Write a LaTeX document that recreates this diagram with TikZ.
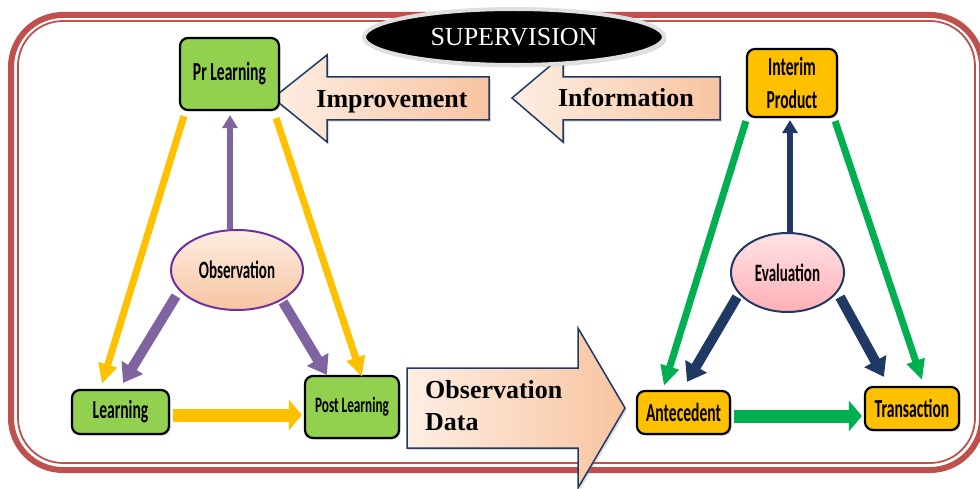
\documentclass[tikz,border=0pt]{standalone}
\usepackage{graphicx}
\usepackage{fontspec}
\setmainfont{Liberation Serif}
\newfontfamily\boxfont{Carlito}
\usetikzlibrary{arrows.meta, shapes.geometric, shadows}

\definecolor{framered}{HTML}{C0504D}
\definecolor{boxgreen}{HTML}{92D050}
\definecolor{boxorange}{HTML}{FFC000}
\definecolor{arryellow}{HTML}{FFC000}
\definecolor{arrgreen}{HTML}{00B050}
\definecolor{arrpurple}{HTML}{8064A2}
\definecolor{arrnavy}{HTML}{1F3864}
\definecolor{obsline}{HTML}{7030A0}
\definecolor{peachdark}{HTML}{F8C4A0}
\definecolor{peachlight}{HTML}{FDEEE3}
\definecolor{pinkdark}{HTML}{FFB0B6}
\definecolor{pinklight}{HTML}{FFE2E5}
\definecolor{blockline}{HTML}{1F3864}

\newcommand{\squeeze}[1]{\scalebox{0.6}[1]{#1}}

\begin{document}
\begin{tikzpicture}[x=1pt, y=-1pt,
    box/.style={rectangle, rounded corners=8pt, draw=black, line width=2.2pt, inner sep=0pt,
        align=center, font=\boxfont\bfseries\fontsize{26}{33}\selectfont,
        drop shadow={shadow xshift=1.5pt, shadow yshift=-1.5pt, opacity=0.35}},
    gbox/.style={box, fill=boxgreen},
    obox/.style={box, fill=boxorange},
    bubble/.style={ellipse, line width=2pt, inner sep=0pt, font=\boxfont\bfseries\fontsize{25}{28}\selectfont},
    blockarrow/.style={draw=blockline, line width=1.5pt, left color=peachlight, right color=peachdark,
        drop shadow={shadow xshift=2pt, shadow yshift=-2pt, opacity=0.25}},
    blocktext/.style={font=\bfseries\fontsize{26}{32}\selectfont, inner sep=0pt},
    sidearrow/.style={line width=7pt, -{Triangle[length=20pt, width=18pt]}},
    basearrow/.style={line width=13pt, -{Triangle[length=13pt, width=30pt]}},
    spokearrow/.style={line width=10pt, -{Triangle[length=18pt, width=24pt]}},
    stemarrow/.style={line width=6pt, -{Triangle[length=13pt, width=15pt]}}
    ]

    \useasboundingbox (0,0) rectangle (980,489);
    \clip (0,0) rectangle (980,489);

    % frame
    \draw[framered, line width=6pt, rounded corners=52pt] (11,15) rectangle (982,470);
    \draw[framered, line width=1.8pt, rounded corners=45pt] (18,21) rectangle (975,463);

    % block arrows
    \path[blockarrow] (273,98) -- (327,55) -- (327,77) -- (489,77) -- (489,120) -- (327,120) -- (327,142) -- cycle;
    \node[blocktext, anchor=base] (imp) at (392,108) {Improvement};
    \path[blockarrow] (512,98) -- (563,55) -- (563,77) -- (720,77) -- (720,120) -- (563,120) -- (563,142) -- cycle;
    \node[blocktext, anchor=base] (inf) at (626,107) {Information};
    \path[blockarrow] (407,368) -- (578,368) -- (578,328) -- (625,408) -- (578,488) -- (578,448) -- (407,448) -- cycle;
    \node[blocktext, anchor=base west, align=left] (obd) at (425,430) {Observation\\Data};

    \node[ellipse, fill=black, draw=gray!25, line width=4pt, minimum width=300pt, minimum height=56pt,
        text=white, font=\fontsize{26}{30}\selectfont, drop shadow={opacity=0.3}] (sup) at (514,37) {SUPERVISION};

    % left triangle
    \node[gbox, minimum width=99pt, minimum height=72pt] (prl) at (229.5,74) {\squeeze{Pr Learning}};
    \node[gbox, minimum width=97pt, minimum height=44pt] (lrn) at (120.5,412) {\squeeze{Learning}};
    \node[gbox, minimum width=94pt, minimum height=62pt, font=\boxfont\bfseries\fontsize{22}{25}\selectfont] (pol) at (352,407) {\squeeze{Post Learning}};
    \node[bubble, draw=obsline, top color=peachlight, bottom color=peachdark, minimum width=132pt, minimum height=80pt] (obs) at (237,270) {\squeeze{Observation}};

    % right triangle
    \node[obox, minimum width=90pt, minimum height=68pt] (itp) at (792,83) {\squeeze{Interim}\\\squeeze{Product}};
    \node[bubble, draw=arrnavy, top color=pinklight, bottom color=pinkdark, minimum width=113pt, minimum height=79pt] (evl) at (787.5,272.5) {\squeeze{Evaluation}};
    \node[obox, minimum width=93pt, minimum height=43pt] (ant) at (683.5,412.5) {\squeeze{Antecedent}};
    \node[obox, minimum width=94pt, minimum height=43pt] (trn) at (912,408.5) {\squeeze{Transaction}};

    % connectors left
    \draw[sidearrow, arryellow] ([shift={(5,5)}]prl.south west) -- ([shift={(31,-5)}]lrn.north west);
    \draw[sidearrow, arryellow] ([shift={(-4,7)}]prl.south east) -- ([shift={(10,2)}]pol.north);
    \draw[basearrow, arryellow] ([shift={(3,3)}]lrn.east) -- ([shift={(-2,8)}]pol.west);
    \draw[stemarrow, arrpurple] ([shift={(-7,0)}]obs.north) -- ([shift={(0.5,4)}]prl.south);
    \draw[spokearrow, arrpurple] ([shift={(-61,26)}]obs.center) -- ([shift={(2.5,-6)}]lrn.north);
    \draw[spokearrow, arrpurple] ([shift={(46,32)}]obs.center) -- ([shift={(23,0)}]pol.north west);

    % connectors right
    \draw[sidearrow, arrgreen] ([shift={(0,3)}]itp.south west) -- ([shift={(28,-4)}]ant.north west);
    \draw[sidearrow, arrgreen] ([shift={(-3,3)}]itp.south east) -- ([shift={(10,-6)}]trn.north);
    \draw[basearrow, arrgreen] ([shift={(3,3.5)}]ant.east) -- ([shift={(-2,7.5)}]trn.west);
    \draw[stemarrow, arrnavy] ([shift={(2.5,0)}]evl.north) -- ([shift={(-2,2)}]itp.south);
    \draw[spokearrow, arrnavy] ([shift={(-50.5,24.5)}]evl.center) -- ([shift={(3.5,-8)}]ant.north);
    \draw[spokearrow, arrnavy] ([shift={(52.5,24.5)}]evl.center) -- ([shift={(20,-9)}]trn.north west);

\end{tikzpicture}
\end{document}
